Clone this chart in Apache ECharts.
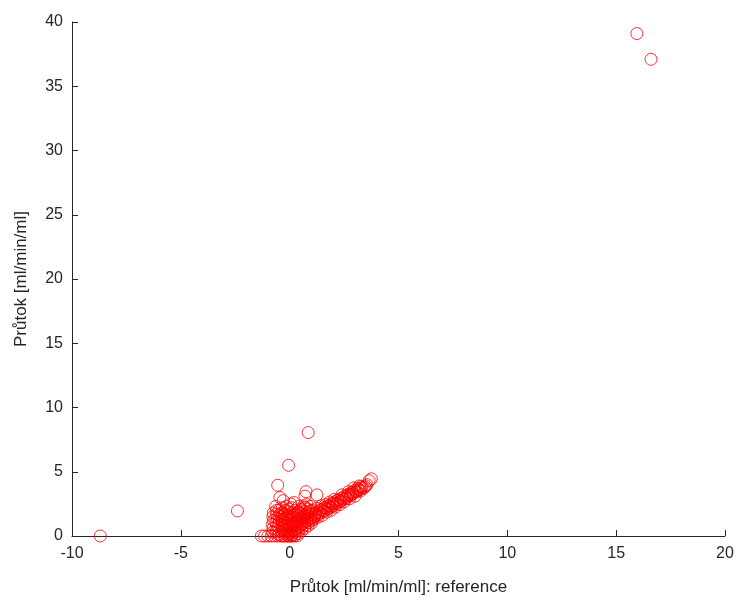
<!DOCTYPE html>
<html>
<head>
<meta charset="utf-8">
<script src="https://cdn.jsdelivr.net/npm/echarts@6/dist/echarts.min.js"></script>
<style>html,body{margin:0;padding:0;background:#fff}#c{width:741px;height:601px}</style>
</head>
<body>
<div id="c"></div>
<script>
// x = reference flow, y = measured flow
const outlierX = [-8.7, -2.4, -0.55, -0.05, 0.85, 15.95, 16.6, -0.45, -0.3, 0.75, 1.25, 0.7, 0.2, 0.05, -0.15, 3.75, 3.65];
const outlierY = [0, 1.95, 3.95, 5.5, 8.05, 39.1, 37.1, 3.0, 2.75, 3.45, 3.2, 3.1, 2.6, 2.5, 2.3, 4.45, 4.3];

const zeroRowX = [-1.3, -1.15, -1.0, -0.85, -0.7, -0.55, -0.4, -0.25, -0.1, 0.05, 0.2, 0.35];
const zeroRowY = [0, 0, 0, 0, 0, 0, 0, 0, 0, 0, 0, 0];

const leftColX = [-0.78, -0.76, -0.8, -0.74, -0.77, -0.75, -0.62, -0.6, -0.63, -0.58, -0.61, -0.6, -0.64];
const leftColY = [0.3, 0.6, 0.9, 1.2, 1.5, 1.8, 0.4, 0.8, 1.1, 1.4, 1.7, 2.0, 2.3];

const blobX = [
  -0.5, -0.48, -0.52, -0.5, -0.47, -0.5, -0.49,
  -0.35, -0.36, -0.33, -0.35, -0.34, -0.37, -0.35, -0.33,
  -0.2, -0.21, -0.19, -0.2, -0.22, -0.18, -0.2, -0.21,
  -0.05, -0.06, -0.04, -0.05, -0.07, -0.03, -0.05, -0.06, -0.04,
  0.1, 0.11, 0.09, 0.1, 0.12, 0.08, 0.1, 0.11, 0.09,
  0.25, 0.26, 0.24, 0.25, 0.27, 0.23, 0.25, 0.26,
  0.4, 0.41, 0.39, 0.4, 0.42, 0.38, 0.4, 0.41,
  0.55, 0.56, 0.54, 0.55, 0.57, 0.53, 0.55,
  0.7, 0.71, 0.69, 0.7, 0.72, 0.68, 0.7,
  0.85, 0.86, 0.84, 0.85, 0.87, 0.83,
  1.0, 1.01, 0.99, 1.0, 1.02, 0.98,
  -0.28, -0.12, 0.02, 0.18, 0.32, 0.47, 0.62, 0.78, 0.92,
  -0.27, -0.13, 0.03, 0.17, 0.33, 0.48, 0.63, 0.77, 0.93,
  -0.42, -0.27, -0.12, 0.04, 0.19, 0.34, 0.49, 0.64, 0.79
];
const blobY = [
  0.1, 0.4, 0.7, 1.0, 1.3, 1.6, 2.0,
  0.0, 0.3, 0.6, 0.9, 1.2, 1.5, 1.8, 2.2,
  0.0, 0.2, 0.5, 0.8, 1.1, 1.4, 1.7, 2.0,
  0.0, 0.15, 0.4, 0.7, 1.0, 1.3, 1.6, 1.9, 2.1,
  0.0, 0.1, 0.3, 0.6, 0.9, 1.2, 1.5, 1.8, 2.2,
  0.05, 0.3, 0.5, 0.8, 1.1, 1.4, 1.7, 2.0,
  0.2, 0.45, 0.7, 1.0, 1.3, 1.6, 1.9, 2.3,
  0.4, 0.65, 0.9, 1.15, 1.45, 1.75, 2.1,
  0.6, 0.85, 1.1, 1.35, 1.6, 1.9, 2.2,
  0.8, 1.05, 1.3, 1.55, 1.8, 2.1,
  1.0, 1.2, 1.45, 1.7, 2.0, 2.3,
  0.45, 0.35, 0.2, 0.35, 0.55, 0.75, 0.95, 1.15, 1.3,
  1.05, 0.95, 0.85, 0.95, 1.15, 1.35, 1.55, 1.75, 1.95,
  1.75, 1.65, 1.55, 1.45, 1.6, 1.8, 2.05, 2.35, 2.45
];

const bandX = [1.1, 1.15, 1.2, 1.3, 1.35, 1.4, 1.5, 1.55, 1.6, 1.7, 1.75, 1.8, 1.9, 1.95, 2.0, 2.1, 2.15, 2.2, 2.3, 2.35, 2.45, 2.5, 2.6, 2.65, 2.75, 2.8, 2.9, 3.0, 3.05, 3.15, 3.25, 3.3, 3.45, 3.55, 2.4, 2.05, 1.85, 1.65, 1.45, 1.25, 2.7, 2.95, 3.2,
  1.12, 1.28, 1.42, 1.58, 1.72, 1.88, 2.02, 2.18, 2.32, 2.48, 2.62, 2.78, 2.92, 3.08, 3.22, 3.38, 3.5,
  1.18, 1.33, 1.48, 1.63, 1.78, 1.93, 2.08, 2.23, 2.38, 2.53, 2.68, 2.83, 2.98, 3.13, 3.28];
const bandY = [1.3, 1.55, 1.8, 1.45, 1.75, 2.05, 1.6, 1.9, 2.2, 1.85, 2.1, 2.35, 2.0, 2.3, 2.55, 2.25, 2.5, 2.8, 2.45, 2.7, 2.95, 2.65, 2.9, 3.15, 2.9, 3.2, 3.4, 3.1, 3.45, 3.6, 3.5, 3.75, 3.8, 4.0, 3.2, 2.85, 2.65, 2.45, 2.35, 2.15, 3.45, 3.75, 3.9,
  1.45, 1.6, 1.8, 1.95, 2.1, 2.25, 2.4, 2.55, 2.7, 2.85, 3.0, 3.15, 3.3, 3.45, 3.6, 3.7, 3.9,
  1.7, 1.9, 2.05, 2.2, 2.35, 2.5, 2.65, 2.8, 2.95, 3.1, 3.25, 3.35, 3.55, 3.7, 3.85];

const xTicks = [-10, -5, 0, 5, 10, 15, 20];
const yTicks = [0, 5, 10, 15, 20, 25, 30, 35, 40];

function pairs(xs, ys) { return xs.map((x, i) => [x, ys[i]]); }
const allData = [].concat(pairs(zeroRowX, zeroRowY), pairs(leftColX, leftColY), pairs(blobX, blobY), pairs(bandX, bandY), pairs(outlierX, outlierY));

const axisColor = '#262626';
const font = 'Liberation Sans, Arial, sans-serif';
const chart = echarts.init(document.getElementById('c'));
chart.setOption({
  animation: false,
  backgroundColor: '#fff',
  grid: { left: 72, right: 16, top: 22, bottom: 65 },
  xAxis: {
    type: 'value', min: xTicks[0], max: xTicks[xTicks.length - 1], interval: 5,
    name: 'Průtok [ml/min/ml]: reference', nameLocation: 'middle', nameGap: 43,
    nameTextStyle: { fontFamily: font, fontSize: 17, color: axisColor },
    axisLine: { show: true, onZero: false, lineStyle: { color: axisColor, width: 1 } },
    axisTick: { show: true, inside: true, length: 6, lineStyle: { color: axisColor } },
    axisLabel: { fontFamily: font, fontSize: 16, color: axisColor, margin: 10 },
    splitLine: { show: false }
  },
  yAxis: {
    type: 'value', min: yTicks[0], max: yTicks[yTicks.length - 1], interval: 5,
    name: 'Průtok [ml/min/ml]', nameLocation: 'middle', nameGap: 42,
    nameTextStyle: { fontFamily: font, fontSize: 17, color: axisColor },
    axisLine: { show: true, onZero: false, lineStyle: { color: axisColor, width: 1 } },
    axisTick: { show: true, inside: true, length: 6, lineStyle: { color: axisColor } },
    axisLabel: { fontFamily: font, fontSize: 16, color: axisColor, margin: 9 },
    splitLine: { show: false }
  },
  series: [{
    type: 'scatter',
    data: allData,
    symbol: 'circle',
    symbolSize: 12,
    itemStyle: { color: 'rgba(0,0,0,0)', borderColor: '#ff0000', borderWidth: 1 },
    emphasis: { disabled: true }
  }]
});
</script>
</body>
</html>
